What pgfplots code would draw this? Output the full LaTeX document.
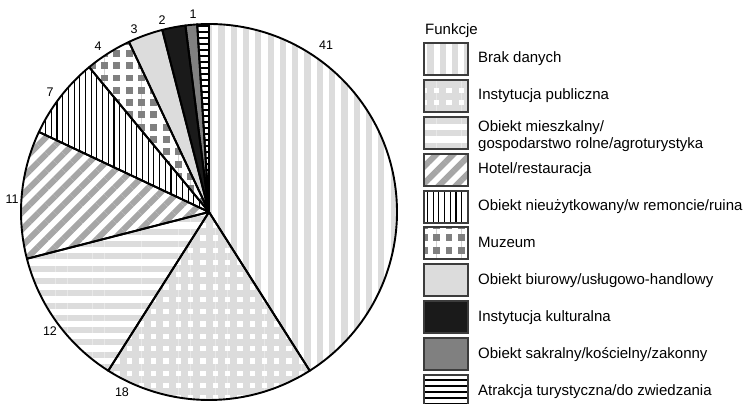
\documentclass[border=0pt]{standalone}
\usepackage{pgfplots}
\pgfplotsset{compat=1.18}
\usepackage{pgfplotstable}
\usepackage{fontspec}
\setmainfont{Liberation Sans}
\usetikzlibrary{patterns.meta}

\definecolor{lgray}{HTML}{DCDCDC}
\definecolor{mgray}{HTML}{A6A6A6}
\definecolor{dgray}{HTML}{808080}
\definecolor{nearblack}{HTML}{1A1A1A}
\definecolor{boxgray}{HTML}{3C3C3C}

\tikzset{
  f1/.style={fill=white, postaction={pattern color=lgray, pattern={Lines[angle=90,distance=12.3pt,line width=6.2pt]}}},
  f2/.style={fill=white, postaction={pattern color=lgray, pattern={Hatch[distance=12.3pt,line width=7pt]}}},
  f3/.style={fill=white, postaction={pattern color=lgray, pattern={Lines[angle=0,distance=12.3pt,line width=6pt]}}},
  f4/.style={fill=white, postaction={pattern color=mgray, pattern={Lines[angle=45,distance=12pt,line width=6pt]}}},
  f5/.style={fill=white, postaction={pattern color=black, pattern={Lines[angle=90,distance=5.7pt,line width=1.1pt]}}},
  f6/.style={fill=dgray, postaction={pattern color=white, pattern={Hatch[distance=12.3pt,line width=5.4pt]}}},
  f7/.style={fill=lgray},
  f8/.style={fill=nearblack},
  f9/.style={fill=dgray},
  f10/.style={fill=white, postaction={pattern color=black, pattern={Lines[angle=0,distance=6pt,line width=2.2pt]}}},
}
\newcommand\legfont{\fontsize{15}{17}\selectfont}
\newcommand\legrow[3]{%
  \pgfmathsetmacro\yt{361-36.9*#1}%
  \pgfmathsetmacro\yb{\yt-32}%
  \fill[#2] (424pt,\yb pt) rectangle (468pt,\yt pt);
  \draw[boxgray, line width=2pt] (424pt,\yb pt) rectangle (468pt,\yt pt);
  \node[anchor=base west, inner sep=0pt, font=\legfont] at (478pt,\yt pt-20pt) {#3};
}

% value, label position (px from left, px from bottom), label shown
\pgfplotstableread{
val lx  ly  show
41  326 359 1
18  122 12  1
12  50  73  1
11  12  205 1
7   50  312 1
4   98  358 1
3   134 375 1
2   162 384 1
1   0   0   0
1   193 390 1
}\piedata

\begin{document}
\begin{tikzpicture}
\begin{axis}[
  hide axis,
  scale only axis,
  width=744pt, height=404pt,
  xmin=0, xmax=744, ymin=0, ymax=404,
  clip=false,
]
\pgfmathsetmacro\cum{0}
% filled sectors
\pgfplotsforeachungrouped \i in {0,...,9}{%
  \pgfplotstablegetelem{\i}{val}\of\piedata \let\v\pgfplotsretval
  \pgfmathsetmacro\aS{90-3.6*\cum}%
  \pgfmathsetmacro\aE{90-3.6*(\cum+\v)}%
  \edef\temp{\noexpand\fill[f\the\numexpr\i+1\relax] (axis cs:209,192) -- ++(\aS:188pt) arc[start angle=\aS, end angle=\aE, radius=188pt] -- cycle;}%
  \temp
  \pgfmathsetmacro\cum{\cum+\v}%
}
% outlines and labels
\pgfmathsetmacro\cum{0}
\pgfplotsforeachungrouped \i in {0,...,9}{%
  \pgfplotstablegetelem{\i}{val}\of\piedata \let\v\pgfplotsretval
  \pgfplotstablegetelem{\i}{lx}\of\piedata \let\lx\pgfplotsretval
  \pgfplotstablegetelem{\i}{ly}\of\piedata \let\ly\pgfplotsretval
  \pgfplotstablegetelem{\i}{show}\of\piedata \let\sh\pgfplotsretval
  \pgfmathsetmacro\aS{90-3.6*\cum}%
  \pgfmathsetmacro\aE{90-3.6*(\cum+\v)}%
  \edef\temp{\noexpand\draw[black, line width=1.9pt, line join=round] (axis cs:209,192) -- ++(\aS:188pt) arc[start angle=\aS, end angle=\aE, radius=188pt] -- cycle;}%
  \temp
  \ifnum\sh=1
    \edef\temp{\noexpand\node[font=\noexpand\fontsize{12.5}{14}\noexpand\selectfont, inner sep=0pt] at (axis cs:\lx,\ly) {\v};}%
    \temp
  \fi
  \pgfmathsetmacro\cum{\cum+\v}%
}
\end{axis}
% legend
\node[anchor=base west, inner sep=0pt, font=\legfont] at (425pt,369.5pt) {Funkcje};
\legrow{0}{f1}{Brak danych}
\legrow{1}{f2}{Instytucja publiczna}
\legrow{2}{f3}{}
\node[anchor=base west, inner sep=0pt, font=\legfont] at (478pt,272.3pt) {Obiekt mieszkalny/};
\node[anchor=base west, inner sep=0pt, font=\legfont] at (478pt,255.5pt) {gospodarstwo rolne/agroturystyka};
\legrow{3}{f4}{Hotel/restauracja}
\legrow{4}{f5}{Obiekt nieużytkowany/w remoncie/ruina}
\legrow{5}{f6}{Muzeum}
\legrow{6}{f7}{Obiekt biurowy/usługowo-handlowy}
\legrow{7}{f8}{Instytucja kulturalna}
\legrow{8}{f9}{Obiekt sakralny/kościelny/zakonny}
\legrow{9}{f10}{Atrakcja turystyczna/do zwiedzania}
\pgfresetboundingbox
\path[use as bounding box] (0,0) rectangle (744pt,404pt);
\end{tikzpicture}
\end{document}
